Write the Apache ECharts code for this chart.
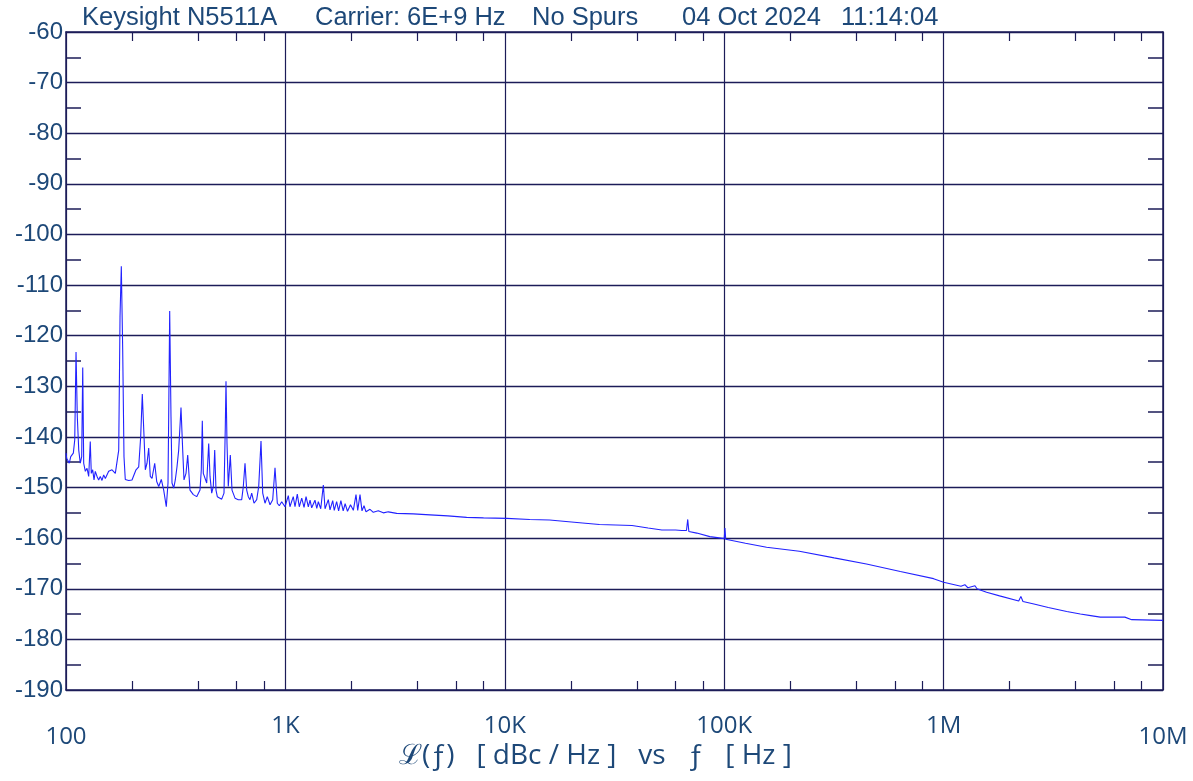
<!DOCTYPE html>
<html><head><meta charset="utf-8">
<script src="https://cdn.jsdelivr.net/npm/echarts@6/dist/echarts.min.js"></script>
<style>html,body{margin:0;padding:0;background:#fff}#c{width:1193px;height:781px}</style>
</head><body><div id="c"></div><script>
// Offset frequency (Hz)
const freqHz = [
100,100.7,102.1,103.5,105.1,106.5,108.0,109.6,111.1,112.6,114.3,116.2,117.9,119.2,120.4,122.5,124.7,126.9,129.0,130.4,
132.3,134.2,136.0,138.5,140.9,143.3,145.9,148.5,151.1,156.5,162.1,167.8,170.8,173.9,176.3,178.7,181.3,183.8,186.3,193.1,
199.9,203.5,208.5,214.5,219.0,222.7,226.8,229.9,234.0,238.2,242.2,246.6,253.7,259.1,264.6,271.9,278.8,286.5,291.7,293.8,
296.9,301.0,304.2,309.7,314.9,320.6,326.3,334.3,340.3,345.0,352.3,358.7,367.4,380.4,394.2,408.1,413.7,418.1,422.5,431.4,
437.8,447.1,453.3,461.4,469.2,476.2,482.7,489.4,512.5,525.0,532.2,536.1,541.8,549.2,560.9,571.0,589.3,610.0,632.2,642.9,
654.5,666.2,677.5,689.7,702.1,719.3,740.0,755.7,774.1,788.1,807.3,827.0,850.8,875.3,896.7,918.6,938.0,962.0,996,1031,
1049,1086,1106,1133,1157,1187,1216,1242,1272,1295,1318,1340,1364,1390,1413,1449,1489,1516,1569,1597,
1643,1670,1712,1748,1790,1834,1872,1919,1980,2040,2098,2136,2188,2234,2282,2330,2430,2516,2651,2794,
2945,3216,3828,4561,5500,6700,8000,10200,13000,16000,19000,22600,27000,32000,38000,45000,52000,60000,64000,67300,
68200,69000,75000,86000,93000,100000,100800,101600,125000,156000,220000,317000,445000,635000,900000,1000000,1200000,1250000,1290000,1390000,
1420000,1480000,1570000,1800000,2200000,2250000,2300000,2580000,3000000,3640000,4200000,4680000,5180000,6700000,7200000,10000000
];
// Phase noise L(f) (dBc/Hz)
const levelDbc = [
-143.2,-144.2,-144.5,-145.2,-143.9,-144.2,-143.2,-140.6,-123.2,-136.0,-142.6,-145.2,-143.9,-126.3,-145.2,-146.8,-146.2,-147.8,-140.9,-147.2,
-146.5,-148.5,-146.8,-147.8,-148.5,-147.8,-148.6,-147.5,-148.2,-146.8,-146.5,-147.2,-147.5,-142.6,-116.2,-106.3,-122.8,-143.9,-148.4,-148.6,
-148.5,-148.8,-146.5,-145.9,-139.9,-131.5,-139.9,-146.5,-145.2,-142.2,-147.8,-148.2,-145.2,-148.8,-149.8,-148.4,-150.5,-153.8,-149.1,-136.0,
-115.1,-136.0,-149.1,-150.1,-148.5,-145.9,-142.6,-134.2,-142.6,-148.5,-147.2,-143.6,-150.5,-151.4,-151.8,-150.5,-146.5,-136.8,-147.2,-147.5,
-149.1,-141.3,-147.8,-151.1,-149.8,-142.6,-150.5,-151.8,-152.3,-151.1,-138.0,-129.0,-141.3,-149.8,-143.6,-150.5,-152.1,-152.4,-152.4,-149.8,
-145.2,-150.5,-151.8,-152.4,-151.1,-153.1,-152.4,-149.8,-140.8,-151.1,-153.1,-151.8,-153.4,-152.4,-146.1,-153.1,-153.6,-152.8,-153.8,-151.6,
-153.8,-151.8,-153.8,-151.3,-153.8,-152.1,-153.9,-151.8,-153.8,-152.5,-154.0,-154.0,-152.5,-154.1,-152.8,-154.2,-149.5,-154.2,-152.4,-154.4,
-152.6,-154.5,-152.8,-154.6,-152.6,-154.6,-153.2,-154.7,-153.4,-154.5,-151.4,-154.5,-151.4,-154.6,-153.6,-154.8,-154.3,-154.9,-154.6,-155.0,
-154.8,-155.1,-155.2,-155.4,-155.6,-155.9,-156.0,-156.1,-156.3,-156.4,-156.7,-157.0,-157.3,-157.4,-157.5,-158.0,-158.4,-158.4,-158.5,-158.5,
-156.3,-158.7,-159.0,-159.7,-159.9,-160.1,-158.0,-160.2,-161.0,-161.8,-162.6,-163.9,-165.1,-166.6,-168.0,-168.7,-169.5,-169.2,-169.8,-169.4,
-170.0,-170.3,-170.7,-171.4,-172.4,-171.5,-172.5,-173.0,-173.7,-174.5,-175.0,-175.3,-175.6,-175.6,-176.1,-176.25
];
const xTickLabels = ['100','1K','10K','100K','1M','10M'];
const xMinorTicks = [200,400,600,800,2000,4000,6000,8000,20000,40000,60000,80000,200000,400000,600000,800000,2000000,4000000,6000000,8000000];
const headerTexts = ['Keysight N5511A','Carrier: 6E+9 Hz','No Spurs','04 Oct 2024','11:14:04'];
const axisTitle = 'ℒ(ƒ)   [ dBc / Hz ]   vs   ƒ   [ Hz ]';

const TXT = '#1d4878';
const GRID = '#1c1c58';
const headerLeft = [82, 315, 532, 682, 841];

const chart = echarts.init(document.getElementById('c'), null, {renderer:'canvas'});
const minorAxis = (pos, showLine) => ({
  type:'log', logBase:10, min:100, max:10000000, position:pos, gridIndex:0,
  axisLine:{show:showLine, lineStyle:{color:GRID, width:1.5}},
  axisTick:{show:true, inside:true, length:9, customValues:xMinorTicks, lineStyle:{color:GRID, width:1.2}},
  axisLabel:{show:false}, splitLine:{show:false}
});
chart.setOption({
  animation:false,
  backgroundColor:'#ffffff',
  title: headerTexts.map((t,i)=>({
    text:t, left:headerLeft[i], top:5, padding:0,
    textStyle:{fontSize:25.5, fontFamily:'Liberation Sans', fontWeight:'normal', color:TXT}
  })),
  grid:{left:66, top:32, right:30, bottom:91, containLabel:false},
  xAxis:[
    {
      type:'log', logBase:10, min:100, max:10000000, position:'bottom', gridIndex:0,
      axisLine:{show:true, lineStyle:{color:GRID, width:1.5}},
      axisTick:{show:false},
      axisLabel:{
        show:true, margin:22, showMinLabel:true, showMaxLabel:true, hideOverlap:false,
        formatter:(v)=>{
          const i = Math.round(Math.log10(v)) - 2;
          const t = xTickLabels[i];
          return (i===0 || i===xTickLabels.length-1) ? '{lo|'+t+'}' : '{hi|'+t+'}';
        },
        rich:{
          hi:{fontSize:24, fontFamily:'Open Sans', color:TXT, lineHeight:28},
          lo:{fontSize:24, fontFamily:'Open Sans', color:TXT, lineHeight:28, padding:[22,0,0,0]}
        }
      },
      splitLine:{show:true, lineStyle:{color:GRID, width:1.2}},
      name: axisTitle, nameLocation:'middle', nameGap:52, nameMoveOverlap:false,
      nameTextStyle:{fontSize:28, fontFamily:'Open Sans', color:TXT, padding:[0,38,0,0]}
    },
    minorAxis('bottom', false),
    minorAxis('top', true)
  ],
  yAxis:[
    {
      type:'value', min:-190, max:-60, interval:10, position:'left',
      axisLine:{show:true, lineStyle:{color:GRID, width:1.5}},
      axisTick:{show:false, inside:true},
      minorTick:{show:true, splitNumber:2, length:15, lineStyle:{color:GRID, width:1.5}},
      axisLabel:{fontSize:24, fontFamily:'Liberation Sans', color:TXT, margin:3},
      splitLine:{show:true, lineStyle:{color:GRID, width:1.3}}
    },
    {
      type:'value', min:-190, max:-60, interval:10, position:'right',
      axisLine:{show:true, lineStyle:{color:GRID, width:1.5}},
      axisTick:{show:false, inside:true},
      minorTick:{show:true, splitNumber:2, length:15, lineStyle:{color:GRID, width:1.5}},
      axisLabel:{show:false},
      splitLine:{show:false}
    }
  ],
  series:[{
    type:'line', xAxisIndex:0, yAxisIndex:0,
    data: freqHz.map((f,i)=>[f, levelDbc[i]]),
    showSymbol:false, symbol:'none', clip:true,
    lineStyle:{color:'#2222ff', width:1.1}
  }]
});
</script></body></html>
